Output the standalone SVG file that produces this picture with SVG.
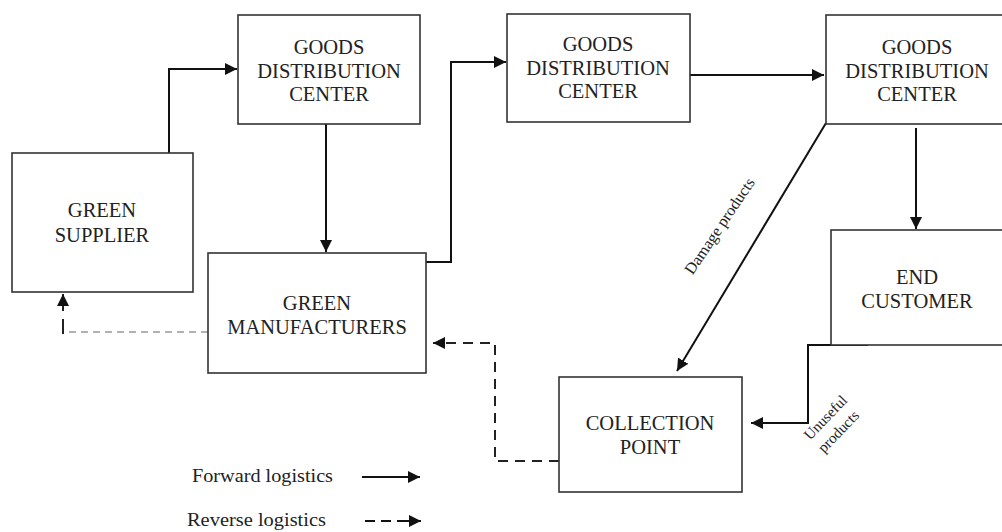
<svg xmlns="http://www.w3.org/2000/svg" width="1002" height="532" viewBox="0 0 1002 532">
<defs>
<style>
.box{fill:#fff;stroke:#333;stroke-width:1.6}
.t{font-family:"Liberation Serif","Times New Roman",serif;font-size:20.5px;fill:#222;text-anchor:middle}
.s{font-family:"Liberation Serif","Times New Roman",serif;fill:#222}
.fw{fill:none;stroke:#111;stroke-width:2}
.rv{fill:none;stroke:#222;stroke-width:2;stroke-dasharray:10 7}
.rvt{fill:none;stroke:#666;stroke-width:1.2;stroke-dasharray:7 5}
</style>
<marker id="ah" viewBox="0 0 10 10" refX="10" refY="5" markerWidth="6" markerHeight="6" markerUnits="strokeWidth" orient="auto">
<path d="M0,0 L10,5 L0,10 z" fill="#111"/>
</marker>
</defs>
<rect width="1002" height="532" fill="#fff"/>
<g id="connectors">
<path class="fw" d="M169,153 V69 H237" marker-end="url(#ah)"/>
<path class="fw" d="M326,124 V252" marker-end="url(#ah)"/>
<path class="fw" d="M426,262 H451 V62 H506" marker-end="url(#ah)"/>
<path class="fw" d="M690,75 H824" marker-end="url(#ah)"/>
<path class="fw" d="M916,128 V229" marker-end="url(#ah)"/>
<path class="fw" d="M826,123 L677,371" marker-end="url(#ah)"/>
<path class="fw" d="M868,345 H808 V423 H751" marker-end="url(#ah)"/>
<path class="rv" d="M559,461 H495 V343 H433" marker-end="url(#ah)"/>
<path class="rvt" d="M208,332 H63"/>
<path d="M63,334 V319" stroke="#222" stroke-width="2" fill="none"/>
<path d="M63,311 V294" stroke="#222" stroke-width="2" fill="none" marker-end="url(#ah)"/>
<text class="s" font-size="16" transform="translate(724,229) rotate(-56)" text-anchor="middle">Damage products</text>
<text class="s" font-size="15" transform="translate(829,421) rotate(-46)" text-anchor="middle">Unuseful</text>
<text class="s" font-size="15" transform="translate(842,435) rotate(-46)" text-anchor="middle">products</text>
</g>
<g id="green-supplier">
<rect class="box" x="12" y="153" width="181" height="139"/>
<text class="t" x="102" y="217">GREEN</text>
<text class="t" x="102" y="242">SUPPLIER</text>
</g>
<g id="gdc1">
<rect class="box" x="238" y="15" width="182" height="109"/>
<text class="t" x="329" y="54">GOODS</text>
<text class="t" x="329" y="78">DISTRIBUTION</text>
<text class="t" x="329" y="101">CENTER</text>
</g>
<g id="green-manufacturers">
<rect class="box" x="208" y="253" width="218" height="120"/>
<text class="t" x="317" y="310">GREEN</text>
<text class="t" x="317" y="334">MANUFACTURERS</text>
</g>
<g id="gdc2">
<rect class="box" x="507" y="14" width="183" height="108"/>
<text class="t" x="598" y="51">GOODS</text>
<text class="t" x="598" y="75">DISTRIBUTION</text>
<text class="t" x="598" y="98">CENTER</text>
</g>
<g id="gdc3">
<rect class="box" x="826" y="15" width="190" height="109"/>
<text class="t" x="917" y="54">GOODS</text>
<text class="t" x="917" y="78">DISTRIBUTION</text>
<text class="t" x="917" y="101">CENTER</text>
</g>
<g id="end-customer">
<rect class="box" x="831" y="230" width="185" height="115"/>
<text class="t" x="917" y="284">END</text>
<text class="t" x="917" y="308">CUSTOMER</text>
</g>
<g id="collection-point">
<rect class="box" x="559" y="377" width="183" height="115"/>
<text class="t" x="650" y="430">COLLECTION</text>
<text class="t" x="650" y="454">POINT</text>
</g>
<g id="legend">
<text class="s" font-size="18" x="192" y="482" textLength="141" lengthAdjust="spacingAndGlyphs">Forward logistics</text>
<path class="fw" d="M362,477 H420" marker-end="url(#ah)"/>
<text class="s" font-size="18" x="187" y="526" textLength="139" lengthAdjust="spacingAndGlyphs">Reverse logistics</text>
<path class="fw" d="M365,521 H375 M381,521 H391 M397,521 H421" marker-end="url(#ah)"/>
</g>
</svg>
